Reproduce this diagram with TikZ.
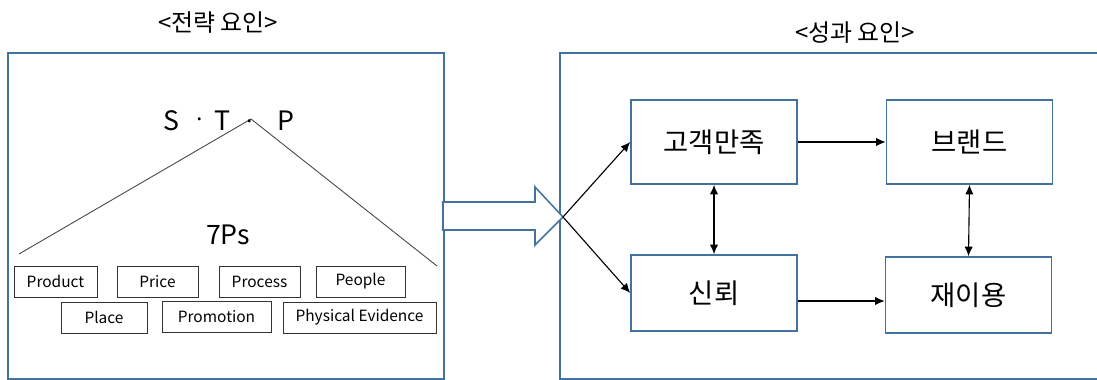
\documentclass[tikz,border=0pt]{standalone}
\usepackage{fontspec}
\setmainfont{Noto Sans CJK KR}
\usetikzlibrary{arrows.meta}
\definecolor{frameblue}{RGB}{68,114,160}
\tikzset{
    pbox/.style={draw=black!80, line width=0.6pt, minimum height=0.775cm, inner sep=0pt, font=\fontsize{11}{12}\selectfont},
    rbox/.style={draw=frameblue, line width=1.1pt, minimum width=4.15cm, inner sep=0pt, font=\fontsize{19.5}{21}\selectfont},
    conn/.style={line width=0.8pt, -{Latex[length=2.4mm,width=2.1mm]}},
    dconn/.style={line width=0.8pt, {Latex[length=2.4mm,width=2.1mm]}-{Latex[length=2.4mm,width=2.1mm]}}
}

\begin{document}
\begin{tikzpicture}[x=0.025cm, y=-0.025cm]
        \useasboundingbox (0,0) rectangle (1097,380);
        % Titles
        \node (ltitle) at (218,23) {\fontsize{17}{19}\selectfont <전략 요인>};
        \node (rtitle) at (855,33) {\fontsize{17}{19}\selectfont <성과 요인>};
        % Draw the two frames
        \draw[frameblue, line width=1.1pt] (8,53) rectangle (444,379);
        \draw[frameblue, line width=1.1pt] (1100,53) -- (560,53) -- (560,379) -- (1100,379);
        % The roof over the 7Ps
        \coordinate (apex) at (251,119);
        \draw[black!75, line width=0.6pt] (19,254) -- (apex) -- (437,266);
        \node (s) at (171,121) {\fontsize{19}{20}\selectfont S};
        \node (d1) at (200,123) {\fontsize{16}{20}\selectfont ·};
        \node (t) at (222,121) {\fontsize{19}{20}\selectfont T};
        \node (d2) at (250,125) {\fontsize{16}{20}\selectfont ·};
        \node (p) at (286,121) {\fontsize{19}{20}\selectfont P};
        \node (sevenp) at (228,235) {\fontsize{19}{20}\selectfont 7Ps};
        % The seven boxes
        \node[pbox, minimum width=2.075cm] (product) at (55.5,281.5) {Product};
        \node[pbox, minimum width=2.025cm] (price) at (157.5,281.5) {Price};
        \node[pbox, minimum width=2.025cm] (process) at (259.5,281.5) {Process};
        \node[pbox, minimum width=2.225cm] (people) at (360.5,281.5) {People};
        \node[pbox, minimum width=2.15cm] (place) at (104,317.5) {Place};
        \node[pbox, minimum width=2.725cm] (promotion) at (216.5,316.5) {Promotion};
        \node[pbox, minimum width=3.825cm] (evidence) at (359.5,317.5) {Physical Evidence};
        % Block arrow between the frames
        \coordinate (tip) at (563,217);
        \draw[frameblue, fill=white, line width=1.1pt] (443,202) -- (535,202) -- (535,187) -- (tip) -- (535,245) -- (535,230) -- (443,230) -- cycle;
        % Outcome boxes
        \node[rbox, minimum height=2.1cm] (gk) at (714,142) {고객만족};
        \node[rbox, minimum height=2.1cm] (br) at (969.5,142) {브랜드};
        \node[rbox, minimum height=1.9cm] (sl) at (714,293) {신뢰};
        \node[rbox, minimum height=1.9cm] (jy) at (968.5,295) {재이용};
        % Connectors
        \draw[conn] (tip) -- (gk.west);
        \draw[conn] (tip) -- (sl.west);
        \draw[conn] (gk.east) -- (br.west);
        \draw[conn] ([yshift=-0.2cm]sl.east) -- ([yshift=-0.2cm]sl.east -| jy.west);
        \draw[dconn] (gk.south) -- (sl.north);
        \draw[dconn] (br.south) -- (jy.north);
    \end{tikzpicture}
\end{document}
